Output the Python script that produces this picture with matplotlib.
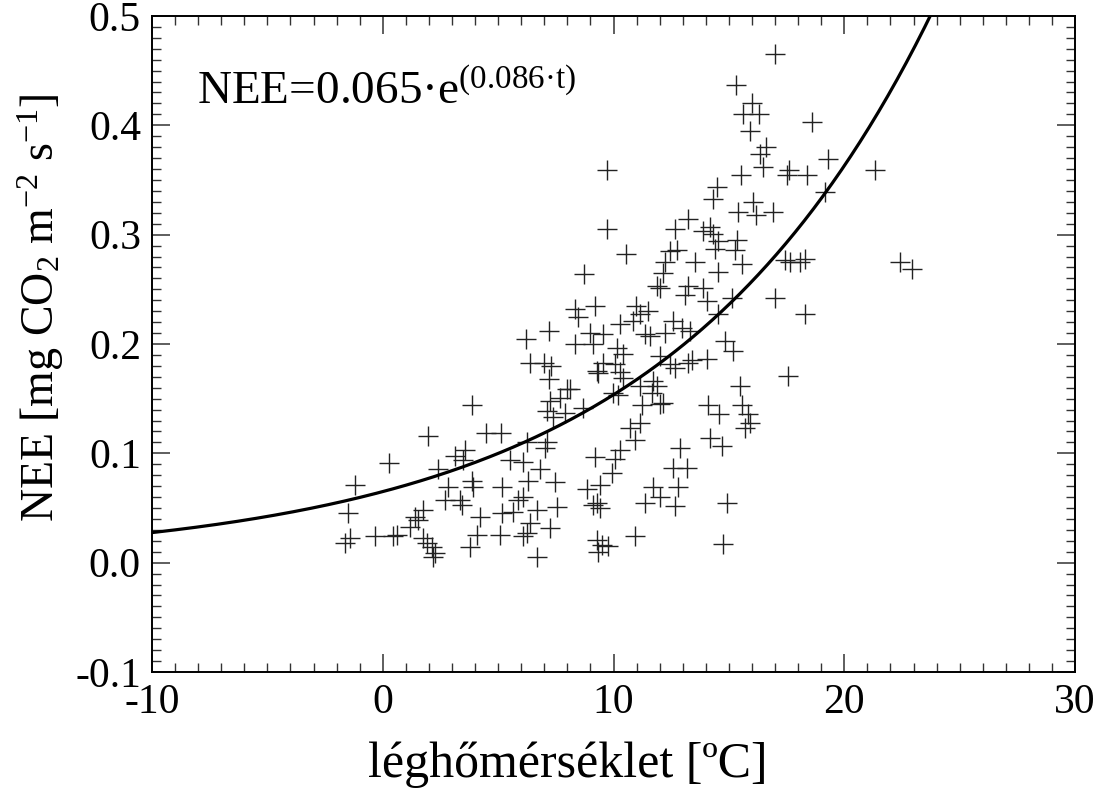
"""NEE vs air temperature scatter with exponential fit."""

import numpy as np
import matplotlib
matplotlib.use("Agg")
import matplotlib.pyplot as plt
from matplotlib.ticker import MultipleLocator, FuncFormatter

# air temperature [C]
temp = [
    3.87, 1.96, 4.47, 5.12, 0.27, -1.20, 2.39, 3.13, 3.56, 3.48,
    6.25, 5.52, 6.08, 6.82, 7.12, 7.03, 7.25, 7.12, 7.68, 7.38,
    7.99, 3.87, 3.91, 2.83, 2.70, 3.35, 3.44, 5.17, 6.29, 7.46,
    5.86, 6.08, 5.65, 5.17, 4.21, 6.68, 7.55, -1.49, 6.38, 7.25,
    4.09, 5.08, 6.08, 6.25, -1.63, -1.42, -0.34, 0.62, 0.44, 1.40,
    1.53, 1.18, 1.74, 1.74, 1.92, 2.13, 2.27, 2.18, 3.78, 6.69,
    15.49, 14.09, 14.57, 15.57, 15.83, 15.92, 15.71, 14.18, 14.70, 12.89,
    12.58, 13.19, 11.71, 12.01, 11.36, 12.80, 12.67, 14.92, 14.75, 10.93,
    9.20, 10.07, 10.29, 9.94, 8.85, 9.42, 9.11, 9.29, 9.42, 9.29,
    9.50, 9.76, 9.33, 10.72, 11.15, 10.93, 11.24, 12.02, 12.15, 11.67,
    11.89, 10.20, 9.98, 8.68, 8.12, 7.90,
    9.72, 9.72, 10.54, 8.72, 16.35, 16.48, 17.60, 17.52, 18.39, 15.53,
    14.49, 14.31, 16.04, 15.40, 16.17, 16.91, 13.23, 12.67, 14.18, 13.88,
    14.31, 14.53, 14.40, 15.36, 15.27, 12.75, 12.45, 13.53, 12.23, 14.53,
    15.57, 17.44, 17.65, 18.08, 18.30, 12.15, 12.02, 11.89, 13.23, 13.10,
    13.88, 14.05, 17.00, 18.30, 15.14, 14.53, 10.99, 11.15, 11.49, 10.85,
    10.29, 9.20, 8.33, 8.46, 12.58, 12.97, 13.32, 11.36, 11.58, 12.23,
    8.98, 9.55, 8.33, 9.11, 10.15, 10.41, 14.83, 15.18, 12.02, 12.45,
    12.67, 13.23, 13.40, 14.05, 9.55, 10.07, 9.29, 9.33, 10.28, 10.41,
    17.57, 11.15, 11.71,
    18.60, 19.30, 21.33, 19.17, 22.42, 22.94,
    17.0, 15.3, 16.0, 16.3, 15.6, 16.6, 15.9,
    6.2, 7.2, 6.4, 7.0, 7.3, 7.2,
]

# net ecosystem exchange [mg CO2 m-2 s-1]
nee = [
    0.144, 0.116, 0.119, 0.119, 0.091, 0.071, 0.086, 0.098, 0.103, 0.094,
    0.110, 0.094, 0.092, 0.086, 0.110, 0.105, 0.148, 0.139, 0.151, 0.133,
    0.159, 0.075, 0.069, 0.069, 0.057, 0.057, 0.053, 0.069, 0.075, 0.074,
    0.057, 0.060, 0.046, 0.045, 0.042, 0.048, 0.051, 0.045, 0.036, 0.032,
    0.025, 0.025, 0.024, 0.027, 0.018, 0.023, 0.024, 0.025, 0.024, 0.042,
    0.039, 0.033, 0.048, 0.023, 0.018, 0.014, 0.009, 0.005, 0.014, 0.005,
    0.162, 0.144, 0.136, 0.144, 0.136, 0.128, 0.123, 0.114, 0.107, 0.105,
    0.087, 0.087, 0.069, 0.060, 0.055, 0.069, 0.052, 0.055, 0.017, 0.024,
    0.097, 0.095, 0.103, 0.082, 0.067, 0.071, 0.053, 0.055, 0.050, 0.021,
    0.016, 0.015, 0.010, 0.123, 0.128, 0.112, 0.144, 0.145, 0.146, 0.155,
    0.162, 0.153, 0.155, 0.141, 0.159, 0.137,
    0.359, 0.305, 0.282, 0.264, 0.374, 0.362, 0.359, 0.355, 0.355, 0.355,
    0.344, 0.333, 0.330, 0.321, 0.318, 0.321, 0.314, 0.305, 0.307, 0.303,
    0.301, 0.294, 0.287, 0.295, 0.286, 0.286, 0.285, 0.275, 0.275, 0.266,
    0.273, 0.277, 0.275, 0.275, 0.278, 0.265, 0.251, 0.253, 0.253, 0.245,
    0.251, 0.239, 0.242, 0.227, 0.242, 0.227, 0.235, 0.227, 0.230, 0.221,
    0.218, 0.235, 0.232, 0.225, 0.221, 0.215, 0.212, 0.209, 0.207, 0.210,
    0.210, 0.209, 0.200, 0.200, 0.196, 0.191, 0.203, 0.194, 0.189, 0.182,
    0.178, 0.183, 0.185, 0.186, 0.183, 0.182, 0.175, 0.173, 0.174, 0.169,
    0.171, 0.162, 0.166,
    0.403, 0.369, 0.359, 0.339, 0.275, 0.269,
    0.465, 0.437, 0.420, 0.410, 0.410, 0.380, 0.395,
    0.205, 0.212, 0.183, 0.183, 0.180, 0.168,
]

# fit: NEE = 0.065 * exp(0.086 * t)
fit_a = 0.065
fit_b = 0.086

plt.rcParams["font.family"] = ["Liberation Serif", "DejaVu Serif"]
plt.rcParams["mathtext.fontset"] = "custom"
plt.rcParams["mathtext.rm"] = "Liberation Serif"
plt.rcParams["mathtext.it"] = "Liberation Serif:italic"
plt.rcParams["axes.unicode_minus"] = False

fig = plt.figure(figsize=(10.97, 8.02), dpi=100)
ax = fig.add_axes([0.1386, 0.1621, 0.8414, 0.818])

ax.plot(temp, nee, linestyle="none", marker="+", markersize=15,
        markeredgewidth=1.0, color="#222222")

t_fit = np.linspace(-10, 30, 400)
ax.plot(t_fit, fit_a * np.exp(fit_b * t_fit), color="black", lw=2.3)

ax.set_xlim(-10, 30)
ax.set_ylim(-0.1, 0.5)
ax.xaxis.set_major_locator(MultipleLocator(10))
ax.xaxis.set_minor_locator(MultipleLocator(1))
ax.yaxis.set_major_locator(MultipleLocator(0.1))
ax.yaxis.set_minor_locator(MultipleLocator(0.01))
ax.xaxis.set_major_formatter(FuncFormatter(lambda v, p: f"{v:.0f}"))
ax.yaxis.set_major_formatter(FuncFormatter(lambda v, p: f"{v:.1f}"))

ax.tick_params(which="both", direction="in", top=True, right=True,
               labelsize=30, color="#333333")
ax.tick_params(which="major", length=13, width=1.1, pad=8)
ax.tick_params(which="minor", length=6.5, width=1.0)
for sp in ax.spines.values():
    sp.set_linewidth(1.4)

ax.set_xlabel("léghőmérséklet [ºC]", fontsize=36, va="center")
ax.xaxis.set_label_coords(0.45, -0.142)
ax.set_ylabel(r"NEE [mg CO$_2$ m$^{-2}$ s$^{-1}$]", fontsize=33, va="center")
ax.yaxis.set_label_coords(-0.121, 0.556)

ax.text(0.049, 0.867, r"NEE=0.065·e$^{(0.086·\mathrm{t})}$",
        transform=ax.transAxes, fontsize=34, va="baseline", ha="left")

fig.savefig("out.png", dpi=100)
